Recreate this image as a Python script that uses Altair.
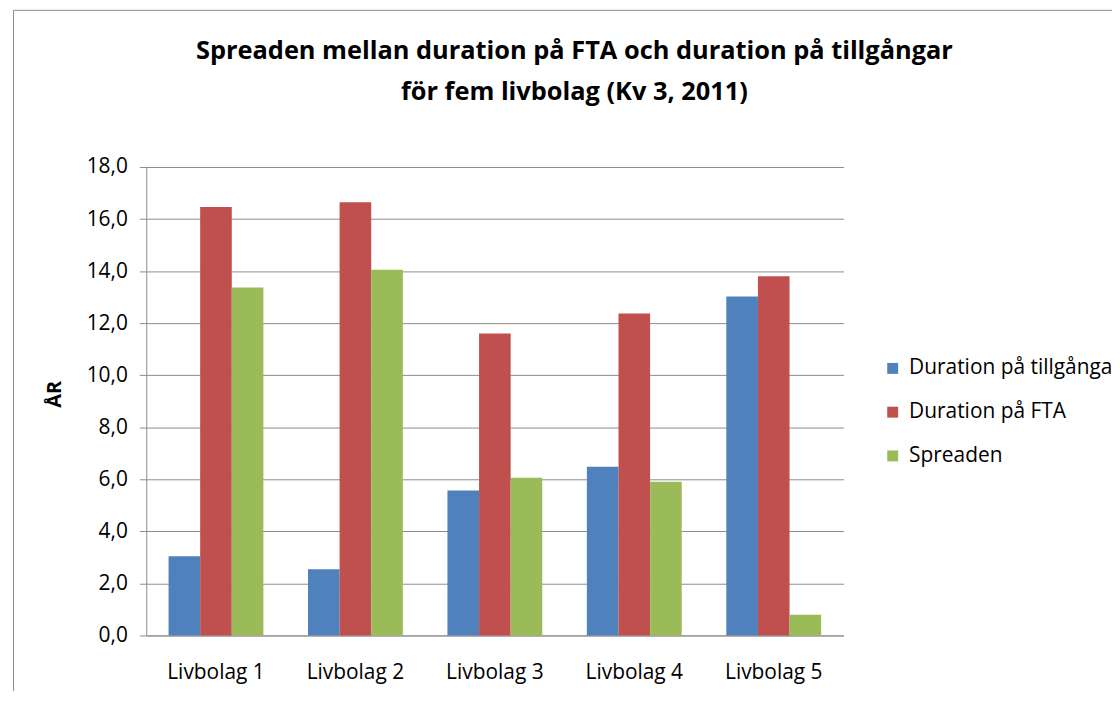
import altair as alt
import pandas as pd

companies = ["Livbolag 1", "Livbolag 2", "Livbolag 3", "Livbolag 4", "Livbolag 5"]
series = ["Duration på tillgångar", "Duration på FTA", "Spreaden"]
assets = [3.04, 2.54, 5.57, 6.48, 13.02]
fta = [16.46, 16.65, 11.60, 12.37, 13.80]
spread = [13.37, 14.05, 6.06, 5.91, 0.80]
colors = ["#4F81BD", "#C0504D", "#9BBB59"]
y_ticks = [0, 2, 4, 6, 8, 10, 12, 14, 16, 18]
title_lines = ["Spreaden mellan duration på FTA och duration på tillgångar",
               "för fem livbolag (Kv 3, 2011)"]

rows = []
for s, vals in zip(series, [assets, fta, spread]):
    for c, v in zip(companies, vals):
        rows.append({"Bolag": c, "Serie": s, "Värde": v})
df = pd.DataFrame(rows)

FONT = "Open Sans"
GRAY = "#8c8c8c"

bars = alt.Chart(df).mark_bar(stroke=None).encode(
    x=alt.X("Bolag:N", sort=companies,
            scale=alt.Scale(paddingInner=0.32, paddingOuter=0.16),
            axis=alt.Axis(title=None, labelAngle=0, ticks=False, tickSize=0,
                          labelPadding=26, labelFontSize=21, labelFont=FONT,
                          labelColor="#000000", domainColor=GRAY, grid=False)),
    xOffset=alt.XOffset("Serie:N", sort=series),
    y=alt.Y("Värde:Q", scale=alt.Scale(domain=[0, 18], nice=False),
            axis=alt.Axis(title="ÅR", values=y_ticks,
                          labelExpr="replace(format(datum.value, '.1f'), '.', ',')",
                          labelFontSize=21, labelFont=FONT, labelColor="#000000",
                          labelPadding=12, tickSize=7, tickColor=GRAY,
                          domainColor=GRAY, gridColor=GRAY, grid=True,
                          titleFont=FONT, titleFontSize=20, titleFontWeight="bold",
                          titleColor="#000000", titleX=-92, titleY=228,
                          titleAngle=-90, titleAlign="center", titleBaseline="middle")),
    color=alt.Color("Serie:N", sort=series,
                    scale=alt.Scale(domain=series, range=colors),
                    legend=alt.Legend(title=None, orient="none", legendX=740, legendY=192,
                                      symbolType="square", symbolSize=121,
                                      symbolStrokeWidth=0, labelFont=FONT,
                                      labelFontSize=21, labelColor="#000000",
                                      labelOffset=6, rowPadding=22, labelLimit=400)),
)

frame = alt.Chart(alt.Data(values=[{"a": 1}])).mark_rect(
    fill=None, stroke=GRAY, strokeWidth=1
).encode(
    x=alt.value(-133.5), x2=alt.value(1200),
    y=alt.value(-157.5), y2=alt.value(700)
)

chart = alt.layer(frame, bars).properties(
    width=701, height=471,
    autosize=alt.AutoSizeParams(type="none"),
    padding={"left": 139, "top": 158, "right": 270, "bottom": 54},
    title=alt.TitleParams(text=title_lines, font=FONT, fontSize=25.5, fontWeight="bold",
                          color="#000000", anchor="middle", frame="group",
                          dx=80, offset=-96, lineHeight=41),
).configure_view(stroke=None)

chart.save("out.html", embed_options={"renderer": "svg", "actions": False})
